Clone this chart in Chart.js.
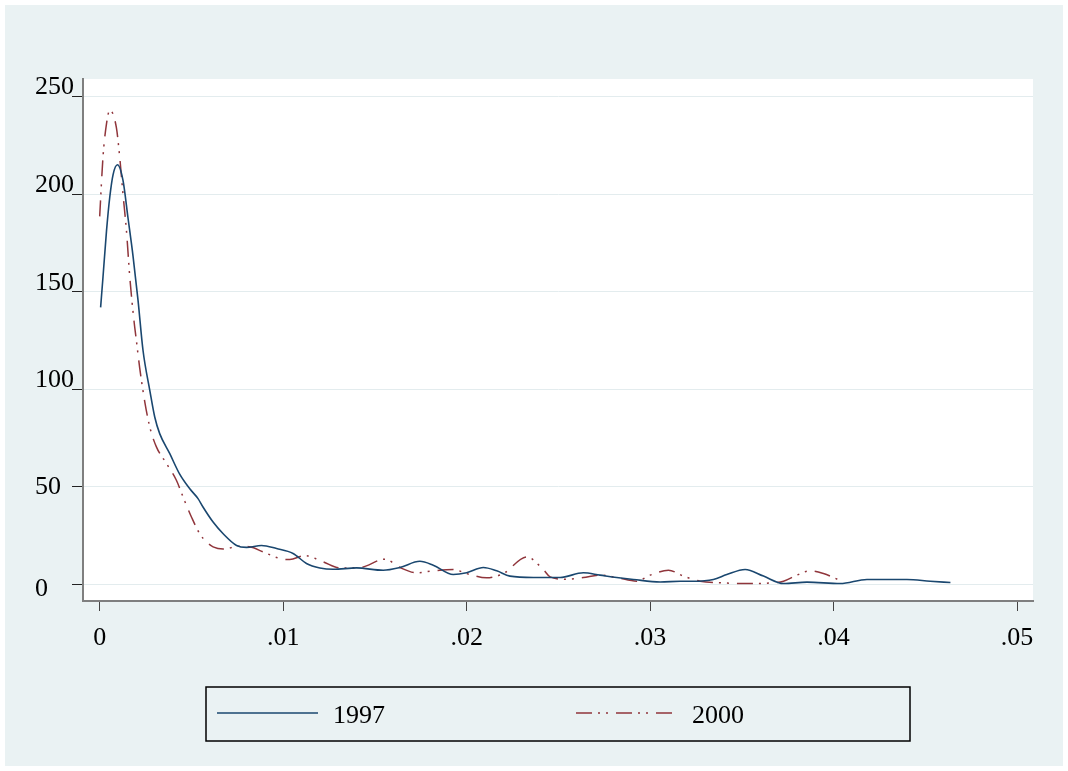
<!DOCTYPE html>
<html>
<head>
<meta charset="utf-8">
<script src="https://cdn.jsdelivr.net/npm/chart.js@4"></script>
<style>
  body { margin: 0; background: #fff; }
  #wrap { position: absolute; left: 5px; top: 5px; }
</style>
</head>
<body>
<div id="wrap"><canvas id="densityChart" width="1058" height="761"></canvas></div>
<script>
// kernel density
const x1997 = [0.00005, 0.00018, 0.00037, 0.00055, 0.00073, 0.00097, 0.00127, 0.00154, 0.00182, 0.00209,
  0.00236, 0.00273, 0.00300, 0.00327, 0.00382, 0.00436, 0.00491, 0.00536, 0.00563, 0.00618,
  0.00673, 0.00746, 0.00800, 0.00882, 0.00964, 0.01054, 0.01127, 0.01200, 0.01273, 0.01400,
  0.01545, 0.01636, 0.01745, 0.01818, 0.01927, 0.02000, 0.02091, 0.02164, 0.02236, 0.02364,
  0.02509, 0.02636, 0.02727, 0.02818, 0.02909, 0.03055, 0.03164, 0.03236, 0.03345, 0.03418,
  0.03518, 0.03618, 0.03727, 0.03855, 0.04036, 0.04182, 0.04309, 0.04400, 0.04527, 0.04637];
const y1997 = [142, 157.5, 181, 198.5, 210, 215, 207, 188, 168, 145.6,
  120, 99.5, 85.8, 77.3, 67, 56.5, 49, 44, 39.7, 32,
  26, 20, 19, 20, 18.4, 15.9, 10.8, 8.5, 7.8, 8.5,
  7.3, 8.7, 11.9, 9.9, 5.1, 6, 8.7, 7, 4.3, 3.6,
  3.6, 6, 4.8, 3.6, 2.6, 1.3, 1.7, 1.7, 2.6, 5.1,
  7.7, 4.3, 0.5, 1.2, 0.5, 2.6, 2.6, 2.6, 1.7, 1.0];

const x2000 = [0.00000, 0.00018, 0.00037, 0.00055, 0.00091, 0.00109, 0.00127, 0.00146, 0.00164, 0.00187,
  0.00200, 0.00218, 0.00245, 0.00273, 0.00309, 0.00364, 0.00418, 0.00460, 0.00500, 0.00545,
  0.00582, 0.00618, 0.00673, 0.00764, 0.00818, 0.00891, 0.00982, 0.01036, 0.01118, 0.01218,
  0.01309, 0.01418, 0.01555, 0.01636, 0.01727, 0.01818, 0.01927, 0.02000, 0.02109, 0.02200,
  0.02327, 0.02418, 0.02455, 0.02545, 0.02636, 0.02727, 0.02818, 0.02927, 0.03000, 0.03100,
  0.03182, 0.03273, 0.03400, 0.03545, 0.03655, 0.03727, 0.03800, 0.03873, 0.03945, 0.04033];
const y2000 = [188.6, 219, 236, 243, 234, 219, 200, 181, 157.5, 135,
  125, 111, 94, 80.7, 70.5, 62, 53.4, 43.5, 34.6, 26,
  21.8, 19.3, 18.2, 19.6, 19.3, 16.7, 13.3, 12.8, 14.8, 11.6,
  8.5, 8.7, 13, 8.7, 6, 7, 7.7, 5.6, 3.4, 5.6,
  14.1, 7.7, 3.9, 2.7, 3.6, 4.8, 3.6, 1.7, 4.8, 7.3,
  4.3, 1.7, 0.8, 0.5, 0.8, 1.7, 4.8, 7, 5.6, 2.2];

const seriesNames = ['1997', '2000'];
const xTicks = [0, 0.01, 0.02, 0.03, 0.04, 0.05];
const xTickLabels = ['0', '.01', '.02', '.03', '.04', '.05'];
const yTicks = [0, 50, 100, 150, 200, 250];

const serif = '"Liberation Serif", "Times New Roman", serif';

// stata-ish frame: background, y labels, boxed legend
const stataFrame = {
  id: 'stataFrame',
  beforeDraw(chart) {
    const { ctx, chartArea: a } = chart;
    ctx.save();
    ctx.fillStyle = '#eaf2f3';
    ctx.fillRect(0, 0, chart.width, chart.height);
    ctx.fillStyle = '#ffffff';
    ctx.fillRect(a.left, a.top, a.right - a.left, a.bottom - a.top);
    ctx.restore();
  },
  afterDraw(chart) {
    const { ctx } = chart;
    const ys = chart.scales.y;
    ctx.save();
    ctx.font = '26px ' + serif;
    ctx.fillStyle = '#000';
    ctx.textAlign = 'left';
    ctx.textBaseline = 'middle';
    yTicks.forEach(v => {
      const label = String(v);
      const shift = label.length === 3 ? -9 : (v === 0 ? 5 : 0);
      ctx.fillText(label, 30, ys.getPixelForValue(v) + shift);
    });

    // legend box
    ctx.strokeStyle = '#000';
    ctx.lineWidth = 1.5;
    ctx.strokeRect(201, 682, 704, 54);
    const slots = [212, 571];
    chart.data.datasets.forEach((ds, i) => {
      const x0 = slots[i];
      ctx.beginPath();
      ctx.setLineDash(ds.borderDash || []);
      ctx.strokeStyle = ds.borderColor;
      ctx.lineWidth = ds.borderWidth;
      ctx.moveTo(x0, 708);
      ctx.lineTo(x0 + 101, 708);
      ctx.stroke();
      ctx.setLineDash([]);
      ctx.fillStyle = '#000';
      ctx.fillText(ds.label, x0 + 116, 711);
    });
    ctx.restore();
  }
};

const toPoints = (xs, ys) => xs.map((x, i) => ({ x, y: ys[i] }));

new Chart(document.getElementById('densityChart'), {
  type: 'line',
  data: {
    datasets: [{
      label: seriesNames[0],
      data: toPoints(x1997, y1997),
      borderColor: '#1a476f',
      borderWidth: 1.6,
      pointRadius: 0,
      cubicInterpolationMode: 'monotone',
      fill: false
    }, {
      label: seriesNames[1],
      data: toPoints(x2000, y2000),
      borderColor: '#90353b',
      borderWidth: 1.5,
      borderDash: [16, 6, 2, 6, 2, 8],
      pointRadius: 0,
      cubicInterpolationMode: 'monotone',
      fill: false
    }]
  },
  options: {
    responsive: false,
    animation: false,
    layout: { padding: { top: 74, right: 30, left: 0, bottom: 0 } },
    plugins: {
      legend: { display: false },
      tooltip: { enabled: false }
    },
    scales: {
      x: {
        type: 'linear',
        min: -0.00091,
        max: 0.05087,
        afterBuildTicks: s => { s.ticks = xTicks.map(v => ({ value: v })); },
        afterFit: s => { s.height = 165; },
        ticks: {
          autoSkip: false,
          maxRotation: 0,
          padding: 12,
          color: '#000',
          font: { family: serif, size: 26 },
          callback: (v, i) => xTickLabels[i]
        },
        grid: {
          drawOnChartArea: false,
          drawTicks: true,
          tickLength: 10,
          tickColor: '#444'
        },
        border: { color: '#7f7f7f', width: 2 }
      },
      y: {
        type: 'linear',
        min: -8.45,
        max: 258.96,
        afterBuildTicks: s => { s.ticks = yTicks.map(v => ({ value: v })); },
        afterFit: s => { s.width = 78; },
        ticks: { display: false },
        grid: {
          color: '#e3ecee',
          lineWidth: 1,
          drawTicks: true,
          tickLength: 11,
          tickColor: '#222'
        },
        border: { color: '#7f7f7f', width: 2 }
      }
    }
  },
  plugins: [stataFrame]
});
</script>
</body>
</html>
